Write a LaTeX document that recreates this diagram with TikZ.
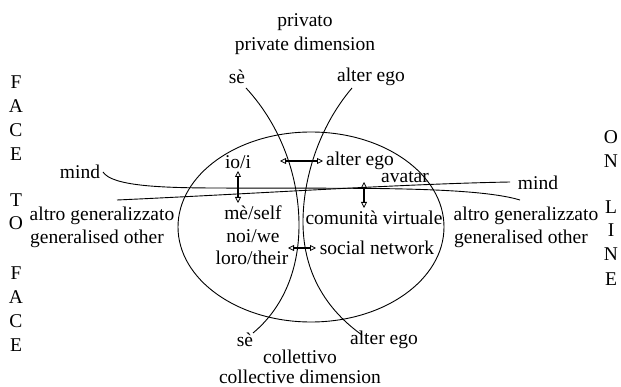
\documentclass[tikz,border=0pt]{standalone}
\usepackage{fontspec}
\setmainfont{Liberation Serif}
\usetikzlibrary{arrows.meta}
\begin{document}
\begin{tikzpicture}[x=1pt,y=-1pt,
  lbl/.style={inner sep=0pt,font=\fontsize{19.5}{21}\selectfont},
  curve/.style={line width=0.9pt},
  dbl/.style={line width=1.4pt,{Triangle[open,length=6pt,width=6pt,line width=0.8pt]}-{Triangle[open,length=6pt,width=6pt,line width=0.8pt]}}]
\useasboundingbox (0,0) rectangle (621,387);
% titles
\node[lbl] (priv) at (305,22) {privato};
\node[lbl] (privd) at (305,46) {private dimension};
\node[lbl] (coll) at (300,357) {collettivo};
\node[lbl] (colld) at (300,377) {collective dimension};
\node[lbl] (setop) at (237,77) {sè};
\node[lbl] (aetop) at (371,77) {alter ego};
\node[lbl] (sebot) at (245,340) {sè};
\node[lbl] (aebot) at (384,340) {alter ego};
% side letters
\foreach \l/\y [count=\i] in {F/82,A/106,C/130,E/154,T/200,O/223,F/273,A/297,C/321,E/345}
  \node[lbl] (ftf\i) at (16,\y) {\l};
\foreach \l/\y [count=\i] in {O/137,N/161,L/207,I/230,N/254,E/279}
  \node[lbl] (onl\i) at (611,\y) {\l};
% side labels
\node[lbl] (mindL) at (80,172) {mind};
\node[lbl] (mindR) at (538,183) {mind};
\node[lbl] (agL) at (102,216) {altro generalizzato};
\node[lbl] (goL) at (97,239) {generalised other};
\node[lbl] (agR) at (526,216) {altro generalizzato};
\node[lbl] (goR) at (521,239) {generalised other};
% inner labels
\node[lbl] (io) at (238,162) {io/i};
\node[lbl] (aein) at (360,161) {alter ego};
\node[lbl] (avatar) at (405,177) {avatar};
\node[lbl] (self) at (253,213) {mè/self};
\node[lbl] (we) at (253,236) {noi/we};
\node[lbl] (their) at (252,258) {loro/their};
\node[lbl] (cv) at (374,218) {comunità virtuale};
\node[lbl] (sn) at (377,248) {social network};
% ellipse
\draw[curve] (311,227) ellipse [x radius=133, y radius=95];
% vertical curves
\coordinate (s1) at (246,88);
\coordinate (s2) at (253,333);
\coordinate (a1) at (352,88);
\coordinate (a2) at (362,335);
\draw[curve] (s1) .. controls (283,128) and (299,180) .. (299,225) .. controls (299,270) and (283,308) .. (s2);
\draw[curve] (a1) .. controls (318,128) and (303,180) .. (303,222) .. controls (303,265) and (320,305) .. (a2);
% mind lines
\coordinate (m1) at (103,172);
\coordinate (m2) at (520,200);
\coordinate (n1) at (117,200);
\coordinate (n2) at (510,182);
\draw[curve] (m1) .. controls (112,186) and (160,188) .. (220,188) .. controls (330,189) and (470,185) .. (m2);
\draw[curve] (n1) .. controls (250,194) and (400,184) .. (n2);
% arrows
\coordinate (p1) at (238,171);
\coordinate (p2) at (238,203);
\coordinate (q1) at (280,161);
\coordinate (q2) at (323,161);
\coordinate (r1) at (364,182);
\coordinate (r2) at (364,208);
\coordinate (t1) at (288,248);
\coordinate (t2) at (316,248);
\draw[dbl] (p1) -- (p2);
\draw[dbl] (q1) -- (q2);
\draw[dbl] (r1) -- (r2);
\draw[dbl] (t1) -- (t2);
\end{tikzpicture}
\end{document}
